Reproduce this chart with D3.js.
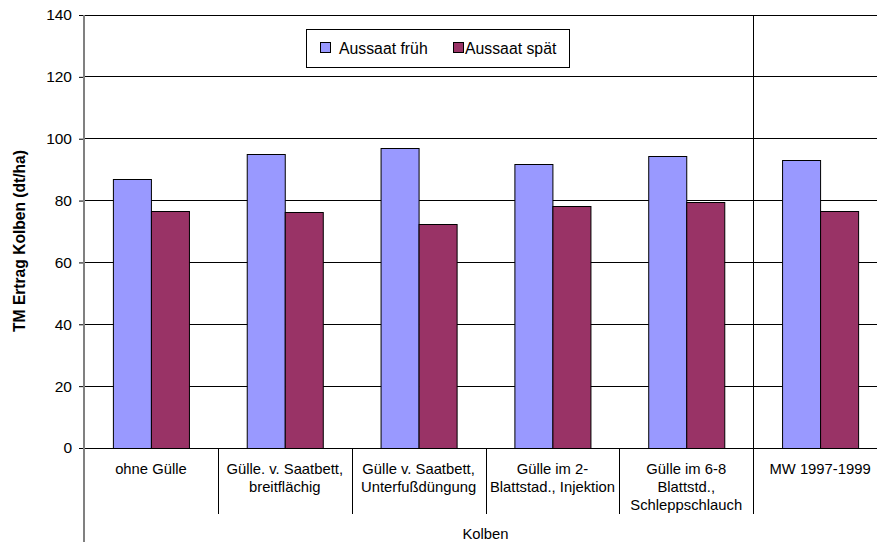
<!DOCTYPE html>
<html><head><meta charset="utf-8">
<script src="https://cdn.jsdelivr.net/npm/d3@7"></script>
<style>
html,body{margin:0;padding:0;background:#fff;}
svg{display:block;font-family:"Liberation Sans",Arial,sans-serif;}
</style></head>
<body>
<svg id="chart" width="877" height="542"></svg>
<script>
const categories = ["ohne Gülle", "Gülle. v. Saatbett,\nbreitflächig", "Gülle v. Saatbett,\nUnterfußdüngung", "Gülle im 2-\nBlattstad., Injektion", "Gülle im 6-8\nBlattstd.,\nSchleppschlauch", "MW 1997-1999"];
const seriesNames = ["Aussaat früh", "Aussaat spät"];
const frueh = [87.0, 94.9, 97.1, 91.7, 94.5, 93.0];
const spaet = [76.7, 76.4, 72.4, 78.1, 79.5, 76.6];
const colors = ["#9999FF", "#993366"];
const yTicks = [0, 20, 40, 60, 80, 100, 120, 140];
const yTitle = "TM Ertrag Kolben (dt/ha)";
const xTitle = "Kolben";

const svg = d3.select("#chart");
const L = 84, R = 887, T = 15, B = 448;
const x = d3.scaleBand().domain(categories).range([L, R]).padding(0);
const xs = d3.scaleBand().domain(seriesNames).range([0, x.bandwidth()]).paddingInner(0).paddingOuter(0.76);
const y = d3.scaleLinear().domain([0, 140]).range([B, T]);

// gridlines
svg.append("g").selectAll("line").data(yTicks.filter(d => d > 0)).join("line")
  .attr("x1", L).attr("x2", R).attr("y1", d => y(d)).attr("y2", d => y(d))
  .attr("stroke", "#000").attr("stroke-width", 1).attr("shape-rendering", "crispEdges");

// separator before MW
svg.append("line").attr("x1", x(categories[5])).attr("x2", x(categories[5]))
  .attr("y1", T).attr("y2", B).attr("stroke", "#000").attr("shape-rendering", "crispEdges");

// bars
const data = categories.map((c, i) => ({c, vals: [frueh[i], spaet[i]]}));
const g = svg.append("g");
data.forEach(d => {
  d.vals.forEach((v, j) => {
    g.append("rect")
      .attr("x", x(d.c) + xs(seriesNames[j]) + 0.5)
      .attr("y", Math.round(y(v)) + 0.5)
      .attr("width", xs.bandwidth())
      .attr("height", B - Math.round(y(v)))
      .attr("fill", colors[j]).attr("stroke", "#000").attr("stroke-width", 1);
  });
});

// x axis line
svg.append("line").attr("x1", L).attr("x2", R).attr("y1", B + 0.5).attr("y2", B + 0.5)
  .attr("stroke", "#000").attr("stroke-width", 1);

// category separators below axis
svg.append("g").selectAll("line").data(categories.slice(1)).join("line")
  .attr("x1", d => Math.round(x(d)) + 0.5).attr("x2", d => Math.round(x(d)) + 0.5)
  .attr("y1", B).attr("y2", 514).attr("stroke", "#000").attr("stroke-width", 1);

// category labels
const lab = svg.append("g").attr("font-size", "14.8px").attr("fill", "#000").attr("text-anchor", "middle");
categories.forEach(c => {
  const lines = c.split("\n");
  const t = lab.append("text").attr("x", x(c) + x.bandwidth() / 2).attr("y", 474);
  lines.forEach((ln, k) => t.append("tspan").attr("x", x(c) + x.bandwidth() / 2).attr("dy", k === 0 ? 0 : 18).text(ln));
});

// y axis
const yAxis = svg.append("g").attr("transform", `translate(${L},0)`)
  .call(d3.axisLeft(y).tickValues(yTicks).tickSize(5).tickPadding(7).tickFormat(d3.format("d")));
yAxis.select(".domain").remove();
yAxis.selectAll(".tick line").attr("stroke", "#000");
yAxis.selectAll(".tick text").attr("font-size", "15.5px").attr("fill", "#000")
  .attr("font-family", "'Liberation Sans',Arial,sans-serif");
svg.append("line").attr("x1", L).attr("x2", L).attr("y1", T).attr("y2", 542)
  .attr("stroke", "#808080").attr("stroke-width", 2);

// titles
svg.append("text").attr("transform", `translate(25,241) rotate(-90)`)
  .attr("text-anchor", "middle").attr("font-size", "15.6px").attr("font-weight", "bold").text(yTitle);
svg.append("text").attr("x", (L + R) / 2).attr("y", 539).attr("text-anchor", "middle")
  .attr("font-size", "14.8px").text(xTitle);

// legend
const lg = svg.append("g");
lg.append("rect").attr("x", 306.5).attr("y", 29.5).attr("width", 263).attr("height", 38)
  .attr("fill", "#fff").attr("stroke", "#000");
const legX = [320, 453];
const legTX = [339, 465];
seriesNames.forEach((s, j) => {
  lg.append("rect").attr("x", legX[j] + 0.5).attr("y", 42.5).attr("width", 10).attr("height", 10)
    .attr("fill", colors[j]).attr("stroke", "#000");
  lg.append("text").attr("x", legTX[j]).attr("y", 54).attr("font-size", "15.8px").text(s);
});
</script>
</body></html>
